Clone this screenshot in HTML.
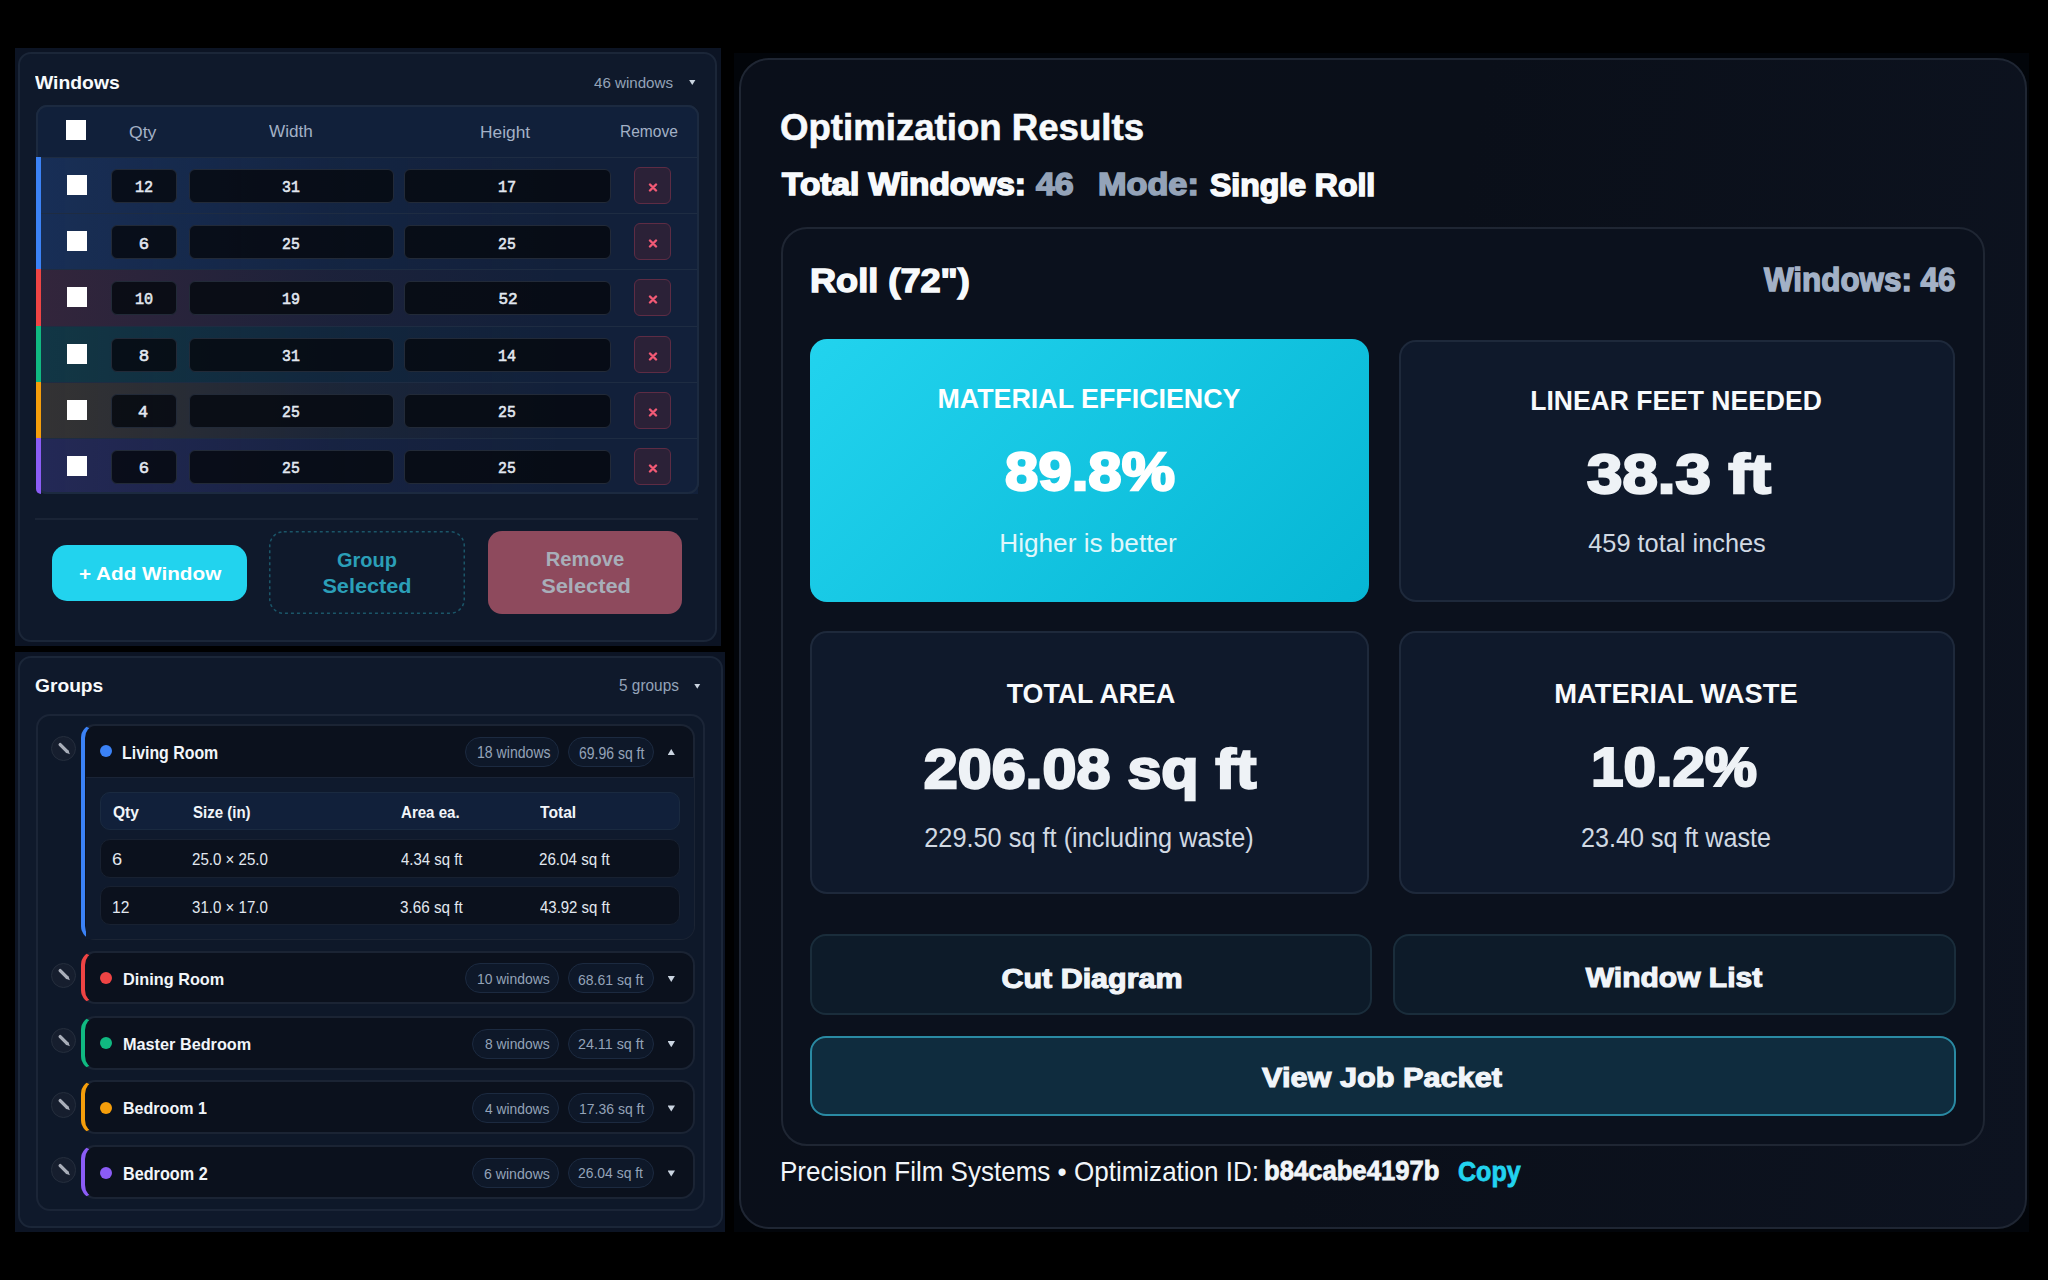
<!DOCTYPE html><html><head><meta charset="utf-8"><style>
*{box-sizing:border-box;margin:0;padding:0}
html,body{width:2048px;height:1280px;overflow:hidden;background:#000;font-family:"Liberation Sans",sans-serif;color:#f1f5f9}
.a{position:absolute}
.t{position:absolute;white-space:nowrap;line-height:1}
.outer1{left:15px;top:48px;width:706px;height:598px;background:#0c1424}
.panel1{left:18px;top:52px;width:699px;height:590px;border:2px solid #1b2638;border-radius:13px;background:#0f192b}
.outer2{left:15px;top:652px;width:710px;height:580px;background:#0c1424}
.panel2{left:18px;top:656px;width:705px;height:572px;border:2px solid #1b2638;border-radius:13px;background:#0f192b}
.outer3{left:734px;top:53px;width:1295px;height:1179px;background:#02050a}
.panel3{left:739px;top:58px;width:1288px;height:1171px;border:2px solid #1f2633;border-radius:30px;background:linear-gradient(100deg,#0a0f1a 0%,#0a0f19 50%,#0d1320 100%)}
.tbl{left:35px;top:105px;width:664px;height:390px;border:1.5px solid #1c2a40;border-radius:11px;background:#111d33;overflow:hidden}
.hdr{position:absolute;left:0;top:0;width:100%;height:52px;background:#11203a}
.row{position:absolute;left:0;width:100%;height:57px;border-top:1.5px solid #1c2a40}
.bar{position:absolute;left:0;top:0;bottom:0;width:5px}
.cb{position:absolute;width:20px;height:20px;background:#fff;border-radius:1px}
.inp{position:absolute;top:10px;height:34px;background:#0a0e17;border:1.5px solid #1a2130;border-radius:6px;color:#e2e8f0;font-size:15px;font-weight:bold;display:flex;align-items:center;justify-content:center}
.rm{position:absolute;top:9px;width:37px;height:37px;border:1.5px solid #6b2f45;border-radius:6px;background:#2a1f33;color:#f05470;font-size:14px;font-weight:bold;display:flex;align-items:center;justify-content:center}
.hd{position:absolute;top:0;height:52px;display:flex;align-items:center;justify-content:center;font-size:15px;color:#a3b1c6}
.btn{position:absolute;display:flex;align-items:center;justify-content:center;text-align:center;font-weight:bold;font-size:19px;line-height:26px}
.gcont{left:36px;top:714px;width:670px;height:497px;border:1.5px solid #1c2638;border-radius:14px;background:#0e1829}
.card{position:absolute;left:81px;width:614px;border:1.5px solid #1c2638;border-radius:14px;background:#0b111d;overflow:hidden}
.cbar{position:absolute;left:0;top:0;bottom:0;width:5px}
.pen{position:absolute;width:25px;height:25px;border-radius:50%;border:1.5px solid #263041;background:#131b28}
.dot{position:absolute;width:11px;height:11px;border-radius:50%}
.gname{position:absolute;font-size:16px;font-weight:bold;color:#f1f5f9;white-space:nowrap;line-height:1}
.pill{position:absolute;height:30px;border:1.5px solid #1c2a40;border-radius:15px;background:#0e1829;color:#94a3b8;font-size:14px;display:flex;align-items:center;justify-content:center;white-space:nowrap}
.tri{position:absolute;font-size:10px;color:#cbd5e1;line-height:1}
.itr{position:absolute;left:19px;width:580px;height:39px;border:1.5px solid #1a2436;border-radius:10px;background:#0b111d}
.itr .c{position:absolute;top:0;height:100%;display:flex;align-items:center;font-size:14px;color:#e2e8f0;white-space:nowrap}
.mcard{position:absolute;border:1.5px solid #1d2738;border-radius:16px;background:#0f192b;text-align:center}
.mlab{position:absolute;left:0;width:100%;font-size:26px;font-weight:bold;color:#f8fafc;line-height:1}
.mval{position:absolute;left:0;width:100%;font-size:54px;font-weight:bold;color:#f1f5f9;line-height:1}
.msub{position:absolute;left:0;width:100%;font-size:24px;color:#d1d9e3;line-height:1}
.abtn{position:absolute;border:1.5px solid #1b2f3c;border-radius:16px;background:#0d1b29;display:flex;align-items:center;justify-content:center;font-size:26px;font-weight:bold;color:#f1f5f9}
</style></head><body>
<div class="a outer1"></div><div class="a panel1"></div><div class="a outer2"></div><div class="a panel2"></div><div class="a outer3"></div><div class="a panel3"></div>
<div id="w_title" class="t" style="left:35.00px;top:72.66px;font-size:19.13px;transform:scaleX(1.0120);transform-origin:left top;font-weight:bold;color:#f8fafc">Windows</div>
<div id="w_count" class="t" style="left:594.00px;top:75.18px;font-size:15.50px;transform:scaleX(0.9753);transform-origin:left top;color:#94a3b8">46 windows</div>
<div class="a" style="left:689px;top:79.8px;width:6.5px;height:5.200000000000003px;background:#cbd5e1;clip-path:polygon(0 0,100% 0,50% 100%)"></div>
<div class="a" style="left:35.5px;top:105px;width:663.5px;height:389px;border:1.5px solid #1c2a40;border-radius:11px;background:#11203a;overflow:hidden"></div>
<div class="a" style="left:66px;top:120px;width:20px;height:20px;background:#fff"></div>
<div id="h_qty" class="t" style="left:129.00px;top:123.65px;font-size:16.20px;transform:scaleX(1.0880);transform-origin:left top;color:#a3b1c6">Qty</div>
<div id="h_width" class="t" style="left:268.50px;top:123.33px;font-size:16.20px;transform:scaleX(1.0591);transform-origin:left top;color:#a3b1c6">Width</div>
<div id="h_height" class="t" style="left:480.00px;top:123.65px;font-size:16.20px;transform:scaleX(1.0705);transform-origin:left top;color:#a3b1c6">Height</div>
<div id="h_remove" class="t" style="left:619.50px;top:123.33px;font-size:16.20px;transform:scaleX(0.9596);transform-origin:left top;color:#a3b1c6">Remove</div>
<div class="a" style="left:36.5px;top:157.0px;width:661.0px;height:56.19999999999999px;background:linear-gradient(90deg,rgba(59,130,246,0.15),rgba(59,130,246,0.045) 45%,rgba(59,130,246,0) 80%),#12203a;border-top:1.5px solid #1e2c42;"></div>
<div class="a" style="left:67px;top:175.0px;width:20px;height:20.0px;background:#fff"></div>
<div class="a" style="left:111px;top:169.0px;width:66px;height:34.0px;background:rgba(6,9,16,0.85);border:1.5px solid #222a38;border-radius:6px"></div>
<div id="r0_111" class="t" style="left:-456.00px;width:1200px;text-align:center;top:180.07px;font-size:16.92px;transform:scaleX(0.8932);transform-origin:center top;color:#e2e8f0;font-family:Liberation Mono,monospace;-webkit-text-stroke:0.6px #e2e8f0">12</div>
<div class="a" style="left:189px;top:169.0px;width:205px;height:34.0px;background:rgba(6,9,16,0.85);border:1.5px solid #222a38;border-radius:6px"></div>
<div id="r0_189" class="t" style="left:-308.70px;width:1200px;text-align:center;top:180.07px;font-size:16.92px;transform:scaleX(0.8770);transform-origin:center top;color:#e2e8f0;font-family:Liberation Mono,monospace;-webkit-text-stroke:0.6px #e2e8f0">31</div>
<div class="a" style="left:404px;top:169.0px;width:207px;height:34.0px;background:rgba(6,9,16,0.85);border:1.5px solid #222a38;border-radius:6px"></div>
<div id="r0_404" class="t" style="left:-93.00px;width:1200px;text-align:center;top:180.07px;font-size:16.92px;transform:scaleX(0.8963);transform-origin:center top;color:#e2e8f0;font-family:Liberation Mono,monospace;-webkit-text-stroke:0.6px #e2e8f0">17</div>
<div class="a" style="left:634px;top:167.0px;width:37px;height:37.0px;border:1.5px solid #5e2c44;border-radius:6px;background:#2b2137"></div>
<svg class="a" style="left:647.5px;top:183.0px" width="10" height="9" viewBox="0 0 10 9"><path d="M2 1.5L8 7.5M8 1.5L2 7.5" stroke="#f25a75" stroke-width="2.4" stroke-linecap="round"/></svg>
<div class="a" style="left:36.5px;top:213.2px;width:661.0px;height:56.19999999999999px;background:linear-gradient(90deg,rgba(59,130,246,0.15),rgba(59,130,246,0.045) 45%,rgba(59,130,246,0) 80%),#12203a;border-top:1.5px solid #1e2c42;"></div>
<div class="a" style="left:67px;top:231.2px;width:20px;height:20.0px;background:#fff"></div>
<div class="a" style="left:111px;top:225.2px;width:66px;height:34.0px;background:rgba(6,9,16,0.85);border:1.5px solid #222a38;border-radius:6px"></div>
<div id="r1_111" class="t" style="left:-456.00px;width:1200px;text-align:center;top:236.59px;font-size:16.92px;transform:scaleX(1.0133);transform-origin:center top;color:#e2e8f0;font-family:Liberation Mono,monospace;-webkit-text-stroke:0.6px #e2e8f0">6</div>
<div class="a" style="left:189px;top:225.2px;width:205px;height:34.0px;background:rgba(6,9,16,0.85);border:1.5px solid #222a38;border-radius:6px"></div>
<div id="r1_189" class="t" style="left:-308.70px;width:1200px;text-align:center;top:236.59px;font-size:16.92px;transform:scaleX(0.8743);transform-origin:center top;color:#e2e8f0;font-family:Liberation Mono,monospace;-webkit-text-stroke:0.6px #e2e8f0">25</div>
<div class="a" style="left:404px;top:225.2px;width:207px;height:34.0px;background:rgba(6,9,16,0.85);border:1.5px solid #222a38;border-radius:6px"></div>
<div id="r1_404" class="t" style="left:-93.00px;width:1200px;text-align:center;top:236.59px;font-size:16.92px;transform:scaleX(0.8743);transform-origin:center top;color:#e2e8f0;font-family:Liberation Mono,monospace;-webkit-text-stroke:0.6px #e2e8f0">25</div>
<div class="a" style="left:634px;top:223.2px;width:37px;height:37.0px;border:1.5px solid #5e2c44;border-radius:6px;background:#2b2137"></div>
<svg class="a" style="left:647.5px;top:239.2px" width="10" height="9" viewBox="0 0 10 9"><path d="M2 1.5L8 7.5M8 1.5L2 7.5" stroke="#f25a75" stroke-width="2.4" stroke-linecap="round"/></svg>
<div class="a" style="left:36.5px;top:269.4px;width:661.0px;height:56.19999999999999px;background:linear-gradient(90deg,rgba(239,68,68,0.15),rgba(239,68,68,0.045) 45%,rgba(239,68,68,0) 80%),#12203a;border-top:1.5px solid #1e2c42;"></div>
<div class="a" style="left:67px;top:287.4px;width:20px;height:20.0px;background:#fff"></div>
<div class="a" style="left:111px;top:281.4px;width:66px;height:34.0px;background:rgba(6,9,16,0.85);border:1.5px solid #222a38;border-radius:6px"></div>
<div id="r2_111" class="t" style="left:-456.00px;width:1200px;text-align:center;top:292.31px;font-size:16.92px;transform:scaleX(0.8932);transform-origin:center top;color:#e2e8f0;font-family:Liberation Mono,monospace;-webkit-text-stroke:0.6px #e2e8f0">10</div>
<div class="a" style="left:189px;top:281.4px;width:205px;height:34.0px;background:rgba(6,9,16,0.85);border:1.5px solid #222a38;border-radius:6px"></div>
<div id="r2_189" class="t" style="left:-308.70px;width:1200px;text-align:center;top:292.31px;font-size:16.92px;transform:scaleX(0.8849);transform-origin:center top;color:#e2e8f0;font-family:Liberation Mono,monospace;-webkit-text-stroke:0.6px #e2e8f0">19</div>
<div class="a" style="left:404px;top:281.4px;width:207px;height:34.0px;background:rgba(6,9,16,0.85);border:1.5px solid #222a38;border-radius:6px"></div>
<div id="r2_404" class="t" style="left:-92.50px;width:1200px;text-align:center;top:292.31px;font-size:16.92px;transform:scaleX(0.9471);transform-origin:center top;color:#e2e8f0;font-family:Liberation Mono,monospace;-webkit-text-stroke:0.6px #e2e8f0">52</div>
<div class="a" style="left:634px;top:279.4px;width:37px;height:37.0px;border:1.5px solid #5e2c44;border-radius:6px;background:#2b2137"></div>
<svg class="a" style="left:647.5px;top:295.4px" width="10" height="9" viewBox="0 0 10 9"><path d="M2 1.5L8 7.5M8 1.5L2 7.5" stroke="#f25a75" stroke-width="2.4" stroke-linecap="round"/></svg>
<div class="a" style="left:36.5px;top:325.6px;width:661.0px;height:56.19999999999999px;background:linear-gradient(90deg,rgba(16,185,129,0.15),rgba(16,185,129,0.045) 45%,rgba(16,185,129,0) 80%),#12203a;border-top:1.5px solid #1e2c42;"></div>
<div class="a" style="left:67px;top:343.6px;width:20px;height:20.0px;background:#fff"></div>
<div class="a" style="left:111px;top:337.6px;width:66px;height:34.0px;background:rgba(6,9,16,0.85);border:1.5px solid #222a38;border-radius:6px"></div>
<div id="r3_111" class="t" style="left:-456.00px;width:1200px;text-align:center;top:348.83px;font-size:16.92px;transform:scaleX(1.0363);transform-origin:center top;color:#e2e8f0;font-family:Liberation Mono,monospace;-webkit-text-stroke:0.6px #e2e8f0">8</div>
<div class="a" style="left:189px;top:337.6px;width:205px;height:34.0px;background:rgba(6,9,16,0.85);border:1.5px solid #222a38;border-radius:6px"></div>
<div id="r3_189" class="t" style="left:-308.70px;width:1200px;text-align:center;top:348.83px;font-size:16.92px;transform:scaleX(0.8770);transform-origin:center top;color:#e2e8f0;font-family:Liberation Mono,monospace;-webkit-text-stroke:0.6px #e2e8f0">31</div>
<div class="a" style="left:404px;top:337.6px;width:207px;height:34.0px;background:rgba(6,9,16,0.85);border:1.5px solid #222a38;border-radius:6px"></div>
<div id="r3_404" class="t" style="left:-93.00px;width:1200px;text-align:center;top:348.83px;font-size:16.92px;transform:scaleX(0.8880);transform-origin:center top;color:#e2e8f0;font-family:Liberation Mono,monospace;-webkit-text-stroke:0.6px #e2e8f0">14</div>
<div class="a" style="left:634px;top:335.6px;width:37px;height:37.0px;border:1.5px solid #5e2c44;border-radius:6px;background:#2b2137"></div>
<svg class="a" style="left:647.5px;top:351.6px" width="10" height="9" viewBox="0 0 10 9"><path d="M2 1.5L8 7.5M8 1.5L2 7.5" stroke="#f25a75" stroke-width="2.4" stroke-linecap="round"/></svg>
<div class="a" style="left:36.5px;top:381.8px;width:661.0px;height:56.19999999999999px;background:linear-gradient(90deg,rgba(245,158,11,0.15),rgba(245,158,11,0.045) 45%,rgba(245,158,11,0) 80%),#12203a;border-top:1.5px solid #1e2c42;"></div>
<div class="a" style="left:67px;top:399.8px;width:20px;height:20.0px;background:#fff"></div>
<div class="a" style="left:111px;top:393.8px;width:66px;height:34.0px;background:rgba(6,9,16,0.85);border:1.5px solid #222a38;border-radius:6px"></div>
<div id="r4_111" class="t" style="left:-457.00px;width:1200px;text-align:center;top:404.55px;font-size:16.92px;transform:scaleX(0.9884);transform-origin:center top;color:#e2e8f0;font-family:Liberation Mono,monospace;-webkit-text-stroke:0.6px #e2e8f0">4</div>
<div class="a" style="left:189px;top:393.8px;width:205px;height:34.0px;background:rgba(6,9,16,0.85);border:1.5px solid #222a38;border-radius:6px"></div>
<div id="r4_189" class="t" style="left:-308.70px;width:1200px;text-align:center;top:404.55px;font-size:16.92px;transform:scaleX(0.8743);transform-origin:center top;color:#e2e8f0;font-family:Liberation Mono,monospace;-webkit-text-stroke:0.6px #e2e8f0">25</div>
<div class="a" style="left:404px;top:393.8px;width:207px;height:34.0px;background:rgba(6,9,16,0.85);border:1.5px solid #222a38;border-radius:6px"></div>
<div id="r4_404" class="t" style="left:-93.00px;width:1200px;text-align:center;top:404.55px;font-size:16.92px;transform:scaleX(0.8743);transform-origin:center top;color:#e2e8f0;font-family:Liberation Mono,monospace;-webkit-text-stroke:0.6px #e2e8f0">25</div>
<div class="a" style="left:634px;top:391.8px;width:37px;height:37.0px;border:1.5px solid #5e2c44;border-radius:6px;background:#2b2137"></div>
<svg class="a" style="left:647.5px;top:407.8px" width="10" height="9" viewBox="0 0 10 9"><path d="M2 1.5L8 7.5M8 1.5L2 7.5" stroke="#f25a75" stroke-width="2.4" stroke-linecap="round"/></svg>
<div class="a" style="left:36.5px;top:438.0px;width:661.0px;height:56.19999999999999px;background:linear-gradient(90deg,rgba(139,92,246,0.15),rgba(139,92,246,0.045) 45%,rgba(139,92,246,0) 80%),#12203a;border-top:1.5px solid #1e2c42;border-bottom-left-radius:10px;"></div>
<div class="a" style="left:67px;top:456.0px;width:20px;height:20.0px;background:#fff"></div>
<div class="a" style="left:111px;top:450.0px;width:66px;height:34.0px;background:rgba(6,9,16,0.85);border:1.5px solid #222a38;border-radius:6px"></div>
<div id="r5_111" class="t" style="left:-456.00px;width:1200px;text-align:center;top:461.07px;font-size:16.92px;transform:scaleX(1.0133);transform-origin:center top;color:#e2e8f0;font-family:Liberation Mono,monospace;-webkit-text-stroke:0.6px #e2e8f0">6</div>
<div class="a" style="left:189px;top:450.0px;width:205px;height:34.0px;background:rgba(6,9,16,0.85);border:1.5px solid #222a38;border-radius:6px"></div>
<div id="r5_189" class="t" style="left:-308.70px;width:1200px;text-align:center;top:461.07px;font-size:16.92px;transform:scaleX(0.8743);transform-origin:center top;color:#e2e8f0;font-family:Liberation Mono,monospace;-webkit-text-stroke:0.6px #e2e8f0">25</div>
<div class="a" style="left:404px;top:450.0px;width:207px;height:34.0px;background:rgba(6,9,16,0.85);border:1.5px solid #222a38;border-radius:6px"></div>
<div id="r5_404" class="t" style="left:-93.00px;width:1200px;text-align:center;top:461.07px;font-size:16.92px;transform:scaleX(0.8743);transform-origin:center top;color:#e2e8f0;font-family:Liberation Mono,monospace;-webkit-text-stroke:0.6px #e2e8f0">25</div>
<div class="a" style="left:634px;top:448.0px;width:37px;height:37.0px;border:1.5px solid #5e2c44;border-radius:6px;background:#2b2137"></div>
<svg class="a" style="left:647.5px;top:464.0px" width="10" height="9" viewBox="0 0 10 9"><path d="M2 1.5L8 7.5M8 1.5L2 7.5" stroke="#f25a75" stroke-width="2.4" stroke-linecap="round"/></svg>
<div class="a" style="left:35.5px;top:105px;width:663.5px;height:389px;border:2px solid #1c2a40;border-radius:11px"></div>
<div class="a" style="left:35.5px;top:157.0px;width:5.5px;height:56.19999999999999px;background:rgb(59,130,246);"></div>
<div class="a" style="left:35.5px;top:213.2px;width:5.5px;height:56.19999999999999px;background:rgb(59,130,246);"></div>
<div class="a" style="left:35.5px;top:269.4px;width:5.5px;height:56.19999999999999px;background:rgb(239,68,68);"></div>
<div class="a" style="left:35.5px;top:325.6px;width:5.5px;height:56.19999999999999px;background:rgb(16,185,129);"></div>
<div class="a" style="left:35.5px;top:381.8px;width:5.5px;height:56.19999999999999px;background:rgb(245,158,11);"></div>
<div class="a" style="left:35.5px;top:438.0px;width:5.5px;height:56.0px;background:rgb(139,92,246);border-bottom-left-radius:10px;"></div>
<div class="a" style="left:35px;top:518px;width:663px;height:2px;background:#1a2436"></div>
<div class="a" style="left:52px;top:545px;width:194.5px;height:56px;background:#22d3ee;border-radius:15px"></div>
<div id="b_add" class="t" style="left:78.50px;top:564.48px;font-size:18.99px;transform:scaleX(1.0909);transform-origin:left top;font-weight:bold;color:#fff">+ Add Window</div>
<svg class="a" style="left:269px;top:531px" width="196" height="83" viewBox="0 0 196 83"><rect x="0.75" y="0.75" width="194.5" height="81.5" rx="14" fill="none" stroke="#1b5669" stroke-width="1.5" stroke-dasharray="3 3"/></svg>
<div id="b_group" class="t" style="left:-233.25px;width:1200px;text-align:center;top:550.71px;font-size:19.69px;transform:scaleX(1.0154);transform-origin:center top;font-weight:bold;color:#2b9fb8">Group</div>
<div id="b_sel1" class="t" style="left:-233.25px;width:1200px;text-align:center;top:577.25px;font-size:19.55px;transform:scaleX(1.1106);transform-origin:center top;font-weight:bold;color:#2b9fb8">Selected</div>
<div class="a" style="left:488px;top:531px;width:194px;height:82.5px;background:#8e4a5d;border-radius:14px"></div>
<div id="b_remove" class="t" style="left:-15.25px;width:1200px;text-align:center;top:550.39px;font-size:19.69px;transform:scaleX(1.0251);transform-origin:center top;font-weight:bold;color:#a8aeb9">Remove</div>
<div id="b_sel2" class="t" style="left:-14.25px;width:1200px;text-align:center;top:577.25px;font-size:19.55px;transform:scaleX(1.1168);transform-origin:center top;font-weight:bold;color:#a8aeb9">Selected</div>
<div id="g_title" class="t" style="left:35.00px;top:676.59px;font-size:18.44px;transform:scaleX(1.0413);transform-origin:left top;font-weight:bold;color:#f8fafc">Groups</div>
<div id="g_count" class="t" style="left:618.50px;top:677.35px;font-size:16.34px;transform:scaleX(0.9427);transform-origin:left top;color:#94a3b8">5 groups</div>
<div class="a" style="left:694px;top:683.5px;width:6.5px;height:5.2000000000000455px;background:#cbd5e1;clip-path:polygon(0 0,100% 0,50% 100%)"></div>
<div class="a" style="left:36.3px;top:714px;width:669.2px;height:497px;border:2px solid #1b2537;border-radius:14px;background:#0e1829"></div>
<div class="a" style="left:81px;top:724.4px;width:614px;height:215.60000000000002px;border:2px solid #1b2434;border-left:4.5px solid rgb(59,130,246);border-radius:14px;background:#0b111d;overflow:hidden"></div>
<div class="a" style="left:50.95px;top:735.95px;width:25.5px;height:25.5px;border-radius:50%;border:1.3px solid #252e3d;background:#161e2e"></div>
<svg class="a" style="left:55.7px;top:740.7px" width="16" height="16" viewBox="0 0 16 16"><path d="M4.2 3.6 L11 10.4" stroke="#a9aeb9" stroke-width="3.4" stroke-linecap="round"/><path d="M9.6 11.6 L12.2 9 L13.9 13.3 Z" fill="#a9aeb9"/></svg>
<div class="a" style="left:99.6px;top:745.3000000000001px;width:12px;height:12px;border-radius:50%;background:rgb(59,130,246)"></div>
<div id="g0_name" class="t" style="left:122.00px;top:745.27px;font-size:17.74px;transform:scaleX(0.8964);transform-origin:left top;font-weight:bold;color:#f1f5f9">Living Room</div>
<div class="a" style="left:465.3px;top:736.7px;width:93.69999999999999px;height:30.0px;border:1.5px solid #1c2a40;border-radius:15px;background:#0e1829"></div>
<div id="g0_pw" class="t" style="left:476.50px;top:745.40px;font-size:15.64px;transform:scaleX(0.9014);transform-origin:left top;color:#94a3b8">18 windows</div>
<div class="a" style="left:568px;top:736.7px;width:85.5px;height:30.0px;border:1.5px solid #1c2a40;border-radius:15px;background:#0e1829"></div>
<div id="g0_pa" class="t" style="left:578.50px;top:746.04px;font-size:15.64px;transform:scaleX(0.8951);transform-origin:left top;color:#94a3b8">69.96 sq ft</div>
<div class="a" style="left:667.5px;top:749.1px;width:7.5px;height:6.2000000000000455px;background:#cbd5e1;clip-path:polygon(50% 0,100% 100%,0 100%)"></div>
<div class="a" style="left:86px;top:777px;width:607.5px;height:161.5px;background:#0f1a2d;border-top:1.5px solid #1a2436;border-bottom-right-radius:12.5px"></div>
<div class="a" style="left:100px;top:791.5px;width:580px;height:38.5px;border:1.5px solid #1a2a40;border-radius:10px;background:#11203a"></div>
<div id="ih_qty" class="t" style="left:112.50px;top:804.63px;font-size:16.62px;transform:scaleX(0.9373);transform-origin:left top;font-weight:bold;color:#f1f5f9">Qty</div>
<div id="ih_size" class="t" style="left:193.00px;top:804.63px;font-size:16.62px;transform:scaleX(0.9046);transform-origin:left top;font-weight:bold;color:#f1f5f9">Size (in)</div>
<div id="ih_area" class="t" style="left:400.50px;top:804.95px;font-size:16.62px;transform:scaleX(0.9071);transform-origin:left top;font-weight:bold;color:#f1f5f9">Area ea.</div>
<div id="ih_total" class="t" style="left:539.50px;top:804.95px;font-size:16.62px;transform:scaleX(0.9421);transform-origin:left top;font-weight:bold;color:#f1f5f9">Total</div>
<div class="a" style="left:100px;top:839px;width:580px;height:39px;border:1.5px solid #182131;border-radius:10px;background:#0b111d"></div>
<div id="ir0_0" class="t" style="left:111.50px;top:851.40px;font-size:16.06px;transform:scaleX(1.1373);transform-origin:left top;color:#e2e8f0">6</div>
<div id="ir0_1" class="t" style="left:192.00px;top:851.40px;font-size:16.06px;transform:scaleX(0.9403);transform-origin:left top;color:#e2e8f0">25.0 &times; 25.0</div>
<div id="ir0_2" class="t" style="left:400.50px;top:851.40px;font-size:16.06px;transform:scaleX(0.9310);transform-origin:left top;color:#e2e8f0">4.34 sq ft</div>
<div id="ir0_3" class="t" style="left:538.50px;top:851.40px;font-size:16.06px;transform:scaleX(0.9446);transform-origin:left top;color:#e2e8f0">26.04 sq ft</div>
<div class="a" style="left:100px;top:886px;width:580px;height:38.60000000000002px;border:1.5px solid #182131;border-radius:10px;background:#0b111d"></div>
<div id="ir1_0" class="t" style="left:112.00px;top:899.64px;font-size:15.64px;transform:scaleX(0.9975);transform-origin:left top;color:#e2e8f0">12</div>
<div id="ir1_1" class="t" style="left:192.00px;top:899.64px;font-size:15.64px;transform:scaleX(0.9645);transform-origin:left top;color:#e2e8f0">31.0 &times; 17.0</div>
<div id="ir1_2" class="t" style="left:399.50px;top:900.28px;font-size:15.64px;transform:scaleX(0.9753);transform-origin:left top;color:#e2e8f0">3.66 sq ft</div>
<div id="ir1_3" class="t" style="left:539.50px;top:900.28px;font-size:15.64px;transform:scaleX(0.9566);transform-origin:left top;color:#e2e8f0">43.92 sq ft</div>
<div class="a" style="left:81px;top:950.5px;width:614px;height:53.89999999999998px;border:2px solid #1b2434;border-left:4.5px solid rgb(239,68,68);border-radius:14px;background:#0b111d;overflow:hidden"></div>
<div class="a" style="left:50.95px;top:962.7px;width:25.5px;height:25.5px;border-radius:50%;border:1.3px solid #252e3d;background:#161e2e"></div>
<svg class="a" style="left:55.7px;top:967.45px" width="16" height="16" viewBox="0 0 16 16"><path d="M4.2 3.6 L11 10.4" stroke="#a9aeb9" stroke-width="3.4" stroke-linecap="round"/><path d="M9.6 11.6 L12.2 9 L13.9 13.3 Z" fill="#a9aeb9"/></svg>
<div class="a" style="left:99.6px;top:972.0500000000001px;width:12px;height:12px;border-radius:50%;background:rgb(239,68,68)"></div>
<div id="g1_name" class="t" style="left:122.50px;top:971.06px;font-size:17.04px;transform:scaleX(0.9560);transform-origin:left top;font-weight:bold;color:#f1f5f9">Dining Room</div>
<div class="a" style="left:465.3px;top:963.45px;width:93.69999999999999px;height:30.0px;border:1.5px solid #1c2a40;border-radius:15px;background:#0e1829"></div>
<div id="g1_pw" class="t" style="left:476.50px;top:971.99px;font-size:14.94px;transform:scaleX(0.9304);transform-origin:left top;color:#94a3b8">10 windows</div>
<div class="a" style="left:568px;top:963.45px;width:85.5px;height:30.0px;border:1.5px solid #1c2a40;border-radius:15px;background:#0e1829"></div>
<div id="g1_pa" class="t" style="left:578.00px;top:972.63px;font-size:14.94px;transform:scaleX(0.9369);transform-origin:left top;color:#94a3b8">68.61 sq ft</div>
<div class="a" style="left:667.5px;top:975.85px;width:7.5px;height:6.2000000000000455px;background:#cbd5e1;clip-path:polygon(0 0,100% 0,50% 100%)"></div>
<div class="a" style="left:81px;top:1015.5px;width:614px;height:54.09999999999991px;border:2px solid #1b2434;border-left:4.5px solid rgb(16,185,129);border-radius:14px;background:#0b111d;overflow:hidden"></div>
<div class="a" style="left:50.95px;top:1027.8px;width:25.5px;height:25.5px;border-radius:50%;border:1.3px solid #252e3d;background:#161e2e"></div>
<svg class="a" style="left:55.7px;top:1032.55px" width="16" height="16" viewBox="0 0 16 16"><path d="M4.2 3.6 L11 10.4" stroke="#a9aeb9" stroke-width="3.4" stroke-linecap="round"/><path d="M9.6 11.6 L12.2 9 L13.9 13.3 Z" fill="#a9aeb9"/></svg>
<div class="a" style="left:99.6px;top:1037.1499999999999px;width:12px;height:12px;border-radius:50%;background:rgb(16,185,129)"></div>
<div id="g2_name" class="t" style="left:122.50px;top:1037.07px;font-size:16.90px;transform:scaleX(0.9621);transform-origin:left top;font-weight:bold;color:#f1f5f9">Master Bedroom</div>
<div class="a" style="left:472.3px;top:1028.55px;width:86.69999999999999px;height:30.0px;border:1.5px solid #1c2a40;border-radius:15px;background:#0e1829"></div>
<div id="g2_pw" class="t" style="left:484.50px;top:1037.05px;font-size:14.80px;transform:scaleX(0.9360);transform-origin:left top;color:#94a3b8">8 windows</div>
<div class="a" style="left:568px;top:1028.55px;width:85.5px;height:30.0px;border:1.5px solid #1c2a40;border-radius:15px;background:#0e1829"></div>
<div id="g2_pa" class="t" style="left:578.00px;top:1037.37px;font-size:14.80px;transform:scaleX(0.9648);transform-origin:left top;color:#94a3b8">24.11 sq ft</div>
<div class="a" style="left:667.5px;top:1040.95px;width:7.5px;height:6.199999999999818px;background:#cbd5e1;clip-path:polygon(0 0,100% 0,50% 100%)"></div>
<div class="a" style="left:81px;top:1080px;width:614px;height:54px;border:2px solid #1b2434;border-left:4.5px solid rgb(245,158,11);border-radius:14px;background:#0b111d;overflow:hidden"></div>
<div class="a" style="left:50.95px;top:1092.25px;width:25.5px;height:25.5px;border-radius:50%;border:1.3px solid #252e3d;background:#161e2e"></div>
<svg class="a" style="left:55.7px;top:1097.0px" width="16" height="16" viewBox="0 0 16 16"><path d="M4.2 3.6 L11 10.4" stroke="#a9aeb9" stroke-width="3.4" stroke-linecap="round"/><path d="M9.6 11.6 L12.2 9 L13.9 13.3 Z" fill="#a9aeb9"/></svg>
<div class="a" style="left:99.6px;top:1101.6px;width:12px;height:12px;border-radius:50%;background:rgb(245,158,11)"></div>
<div id="g3_name" class="t" style="left:122.50px;top:1100.18px;font-size:17.04px;transform:scaleX(0.9436);transform-origin:left top;font-weight:bold;color:#f1f5f9">Bedroom 1</div>
<div class="a" style="left:472.3px;top:1093.0px;width:86.69999999999999px;height:30.0px;border:1.5px solid #1c2a40;border-radius:15px;background:#0e1829"></div>
<div id="g3_pw" class="t" style="left:484.50px;top:1101.75px;font-size:14.94px;transform:scaleX(0.9235);transform-origin:left top;color:#94a3b8">4 windows</div>
<div class="a" style="left:568px;top:1093.0px;width:85.5px;height:30.0px;border:1.5px solid #1c2a40;border-radius:15px;background:#0e1829"></div>
<div id="g3_pa" class="t" style="left:578.50px;top:1101.59px;font-size:14.94px;transform:scaleX(0.9370);transform-origin:left top;color:#94a3b8">17.36 sq ft</div>
<div class="a" style="left:667.5px;top:1105.4px;width:7.5px;height:6.199999999999818px;background:#cbd5e1;clip-path:polygon(0 0,100% 0,50% 100%)"></div>
<div class="a" style="left:81px;top:1145px;width:614px;height:54px;border:2px solid #1b2434;border-left:4.5px solid rgb(139,92,246);border-radius:14px;background:#0b111d;overflow:hidden"></div>
<div class="a" style="left:50.95px;top:1157.25px;width:25.5px;height:25.5px;border-radius:50%;border:1.3px solid #252e3d;background:#161e2e"></div>
<svg class="a" style="left:55.7px;top:1162.0px" width="16" height="16" viewBox="0 0 16 16"><path d="M4.2 3.6 L11 10.4" stroke="#a9aeb9" stroke-width="3.4" stroke-linecap="round"/><path d="M9.6 11.6 L12.2 9 L13.9 13.3 Z" fill="#a9aeb9"/></svg>
<div class="a" style="left:99.6px;top:1166.6px;width:12px;height:12px;border-radius:50%;background:rgb(139,92,246)"></div>
<div id="g4_name" class="t" style="left:122.50px;top:1165.72px;font-size:17.60px;transform:scaleX(0.9212);transform-origin:left top;font-weight:bold;color:#f1f5f9">Bedroom 2</div>
<div class="a" style="left:472.3px;top:1158.0px;width:86.69999999999999px;height:30.0px;border:1.5px solid #1c2a40;border-radius:15px;background:#0e1829"></div>
<div id="g4_pw" class="t" style="left:483.50px;top:1165.70px;font-size:15.50px;transform:scaleX(0.9105);transform-origin:left top;color:#94a3b8">6 windows</div>
<div class="a" style="left:568px;top:1158.0px;width:85.5px;height:30.0px;border:1.5px solid #1c2a40;border-radius:15px;background:#0e1829"></div>
<div id="g4_pa" class="t" style="left:578.00px;top:1165.22px;font-size:15.50px;transform:scaleX(0.8978);transform-origin:left top;color:#94a3b8">26.04 sq ft</div>
<div class="a" style="left:667.5px;top:1170.4px;width:7.5px;height:6.199999999999818px;background:#cbd5e1;clip-path:polygon(0 0,100% 0,50% 100%)"></div>
<div id="r_title" class="t" style="left:780.00px;top:109.86px;font-size:36.31px;transform:scaleX(1.0084);transform-origin:left top;font-weight:bold;color:#f8fafc;-webkit-text-stroke:0.6px currentColor">Optimization Results</div>
<div id="r_tw" class="t" style="left:782.00px;top:168.58px;font-size:31.15px;transform:scaleX(1.0721);transform-origin:left top;font-weight:bold;color:#f8fafc;-webkit-text-stroke:1.6px currentColor">Total Windows:</div>
<div id="r_46" class="t" style="left:1036.00px;top:168.58px;font-size:31.15px;transform:scaleX(1.0897);transform-origin:left top;font-weight:bold;color:#94a3b8;-webkit-text-stroke:1.6px currentColor">46</div>
<div id="r_mode" class="t" style="left:1097.50px;top:168.58px;font-size:31.15px;transform:scaleX(1.0993);transform-origin:left top;font-weight:bold;color:#94a3b8;-webkit-text-stroke:1.6px currentColor">Mode:</div>
<div id="r_single" class="t" style="left:1209.50px;top:169.54px;font-size:31.15px;transform:scaleX(1.0268);transform-origin:left top;font-weight:bold;color:#f8fafc;-webkit-text-stroke:1.6px currentColor">Single Roll</div>
<div class="a" style="left:781.4px;top:226.5px;width:1204.1px;height:919.0px;border:2px solid #1f2633;border-radius:26px;background:#0b111d"></div>
<div id="r_roll" class="t" style="left:810.00px;top:264.48px;font-size:33.38px;transform:scaleX(1.0835);transform-origin:left top;font-weight:bold;color:#f8fafc;-webkit-text-stroke:1.4px currentColor">Roll (72")</div>
<div id="r_win46" class="t" style="left:1764.00px;top:263.20px;font-size:33.38px;transform:scaleX(0.9400);transform-origin:left top;font-weight:bold;color:#a3b1c6;-webkit-text-stroke:1.4px currentColor">Windows: 46</div>
<div class="a" style="left:810.3px;top:338.5px;width:559.1000000000001px;height:263.0px;border-radius:17px;background:linear-gradient(135deg,#22d3ee,#06b6d4)"></div>
<div id="c0_lab" class="t" style="left:488.50px;width:1200px;text-align:center;top:385.45px;font-size:27.23px;transform:scaleX(0.9856);transform-origin:center top;font-weight:bold;color:#ffffff">MATERIAL EFFICIENCY</div>
<div id="c0_val" class="t" style="left:489.50px;width:1200px;text-align:center;top:444.27px;font-size:54.05px;transform:scaleX(1.1078);transform-origin:center top;font-weight:bold;color:#ffffff;-webkit-text-stroke:2.4px currentColor">89.8%</div>
<div id="c0_sub" class="t" style="left:488.00px;width:1200px;text-align:center;top:530.52px;font-size:25.14px;transform:scaleX(1.0418);transform-origin:center top;color:#e0f7fb">Higher is better</div>
<div class="a" style="left:1398.8px;top:339.7px;width:556.4000000000001px;height:261.90000000000003px;border:2px solid #1e293b;border-radius:17px;background:#0f192b"></div>
<div id="c1_lab" class="t" style="left:1076.25px;width:1200px;text-align:center;top:385.56px;font-size:28.49px;transform:scaleX(0.9306);transform-origin:center top;font-weight:bold;color:#f8fafc">LINEAR FEET NEEDED</div>
<div id="c1_val" class="t" style="left:1078.50px;width:1200px;text-align:center;top:445.83px;font-size:56.15px;transform:scaleX(1.1333);transform-origin:center top;font-weight:bold;color:#eef2f6;-webkit-text-stroke:2.4px currentColor">38.3 ft</div>
<div id="c1_sub" class="t" style="left:1077.25px;width:1200px;text-align:center;top:530.24px;font-size:26.68px;transform:scaleX(0.9505);transform-origin:center top;color:#d1d9e3">459 total inches</div>
<div class="a" style="left:810.3px;top:631.4px;width:559.1000000000001px;height:263.1px;border:2px solid #1e293b;border-radius:17px;background:#0f192b"></div>
<div id="c2_lab" class="t" style="left:490.50px;width:1200px;text-align:center;top:680.43px;font-size:27.79px;transform:scaleX(0.9633);transform-origin:center top;font-weight:bold;color:#f8fafc">TOTAL AREA</div>
<div id="c2_val" class="t" style="left:489.50px;width:1200px;text-align:center;top:741.31px;font-size:55.87px;transform:scaleX(1.0928);transform-origin:center top;font-weight:bold;color:#eef2f6;-webkit-text-stroke:2.4px currentColor">206.08 sq ft</div>
<div id="c2_sub" class="t" style="left:489.25px;width:1200px;text-align:center;top:823.91px;font-size:27.79px;transform:scaleX(0.9120);transform-origin:center top;color:#d1d9e3">229.50 sq ft (including waste)</div>
<div class="a" style="left:1398.8px;top:631.4px;width:556.4000000000001px;height:263.1px;border:2px solid #1e293b;border-radius:17px;background:#0f192b"></div>
<div id="c3_lab" class="t" style="left:1076.00px;width:1200px;text-align:center;top:680.43px;font-size:27.79px;transform:scaleX(0.9839);transform-origin:center top;font-weight:bold;color:#f8fafc">MATERIAL WASTE</div>
<div id="c3_val" class="t" style="left:1074.00px;width:1200px;text-align:center;top:738.91px;font-size:55.87px;transform:scaleX(1.0468);transform-origin:center top;font-weight:bold;color:#eef2f6;-webkit-text-stroke:2.2px currentColor">10.2%</div>
<div id="c3_sub" class="t" style="left:1076.00px;width:1200px;text-align:center;top:823.91px;font-size:27.79px;transform:scaleX(0.9038);transform-origin:center top;color:#d1d9e3">23.40 sq ft waste</div>
<div class="a" style="left:810.3px;top:934.3px;width:562.1000000000001px;height:80.40000000000009px;border:2px solid #1a2d3b;border-radius:16px;background:#0d1b29"></div>
<div id="a_cut" class="t" style="left:491.75px;width:1200px;text-align:center;top:965.06px;font-size:27.09px;transform:scaleX(1.1247);transform-origin:center top;font-weight:bold;color:#f1f5f9;-webkit-text-stroke:1.1px currentColor">Cut Diagram</div>
<div class="a" style="left:1393px;top:934.3px;width:562.7px;height:80.40000000000009px;border:2px solid #1a2d3b;border-radius:16px;background:#0d1b29"></div>
<div id="a_wl" class="t" style="left:1073.50px;width:1200px;text-align:center;top:963.78px;font-size:27.09px;transform:scaleX(1.1078);transform-origin:center top;font-weight:bold;color:#f1f5f9;-webkit-text-stroke:1.1px currentColor">Window List</div>
<div class="a" style="left:810.3px;top:1035.5px;width:1145.4px;height:80.5px;border:2px solid #2a8aa3;border-radius:16px;background:#0f2c3e"></div>
<div id="a_vj" class="t" style="left:781.50px;width:1200px;text-align:center;top:1064.28px;font-size:27.09px;transform:scaleX(1.1329);transform-origin:center top;font-weight:bold;color:#f1f5f9;-webkit-text-stroke:1.1px currentColor">View Job Packet</div>
<div id="f_1" class="t" style="left:779.50px;top:1157.75px;font-size:27.23px;transform:scaleX(0.9560);transform-origin:left top;color:#f1f5f9">Precision Film Systems &bull; Optimization ID:</div>
<div id="f_id" class="t" style="left:1263.50px;top:1156.95px;font-size:27.23px;transform:scaleX(0.9421);transform-origin:left top;font-weight:bold;color:#f1f5f9;-webkit-text-stroke:0.8px currentColor">b84cabe4197b</div>
<div id="f_copy" class="t" style="left:1458.00px;top:1157.75px;font-size:27.23px;transform:scaleX(0.9215);transform-origin:left top;font-weight:bold;color:#22d3ee;-webkit-text-stroke:0.8px currentColor">Copy</div>
</body></html>
